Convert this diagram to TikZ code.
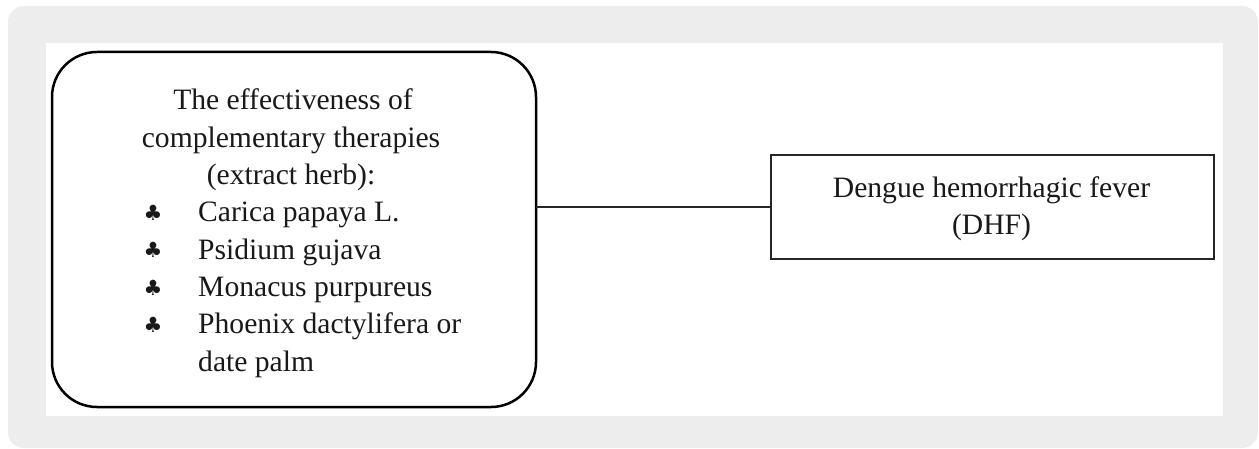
\documentclass[tikz,border=0pt]{standalone}
\usepackage{fontspec}
\setmainfont{Liberation Serif}
\newfontfamily\symfont{DejaVu Sans}
\definecolor{bggrey}{HTML}{EDEDED}
\begin{document}
\begin{tikzpicture}[x=1pt,y=-1pt,
  herbbox/.style={draw=black, line width=2.5pt, rounded corners=45pt, minimum width=484pt, minimum height=355pt, inner sep=0pt, outer sep=0pt},
  dhfbox/.style={draw=black!85, line width=1.5pt, minimum width=443pt, minimum height=104pt, inner sep=0pt, outer sep=0pt},
  link/.style={draw=black!85, line width=1.4pt},
  txt/.style={font=\fontsize{29.6}{37}\selectfont, inner sep=0pt, text=black!90},
  bul/.style={font=\symfont\fontsize{21}{24}\selectfont, inner sep=0pt, anchor=base, text=black!90}
]
\useasboundingbox (0,0) rectangle (1259,449);
\fill[bggrey, rounded corners=16pt] (8,6) rectangle (1258,448);
\fill[white] (46,43) rectangle (1223,416);

\node[herbbox] (herb) at (294,229.5) {};
\node[dhfbox] (dhf) at (992.5,207) {};
\draw[link] (herb.east |- dhf.west) -- (dhf.west);

\node[txt, anchor=base] (t1) at (293,110) {The effectiveness of};
\node[txt, anchor=base] (t2) at (291,147.3) {complementary therapies};
\node[txt, anchor=base] (t3) at (291,184.6) {(extract herb):};

\node[bul] (b1) at (153,220.5) {♣};
\node[bul] (b2) at (153,257.8) {♣};
\node[bul] (b3) at (153,295.1) {♣};
\node[bul] (b4) at (153,332.4) {♣};

\node[txt, anchor=base west] (i1) at (198,221.9) {Carica papaya L.};
\node[txt, anchor=base west] (i2) at (198,259.2) {Psidium gujava};
\node[txt, anchor=base west] (i3) at (198,296.5) {Monacus purpureus};
\node[txt, anchor=base west] (i4) at (198,333.8) {Phoenix dactylifera or};
\node[txt, anchor=base west] (i5) at (198,371.1) {date palm};

\node[txt, anchor=base] (d1) at (991.5,198) {Dengue hemorrhagic fever};
\node[txt, anchor=base] (d2) at (991.5,235) {(DHF)};
\end{tikzpicture}
\end{document}
